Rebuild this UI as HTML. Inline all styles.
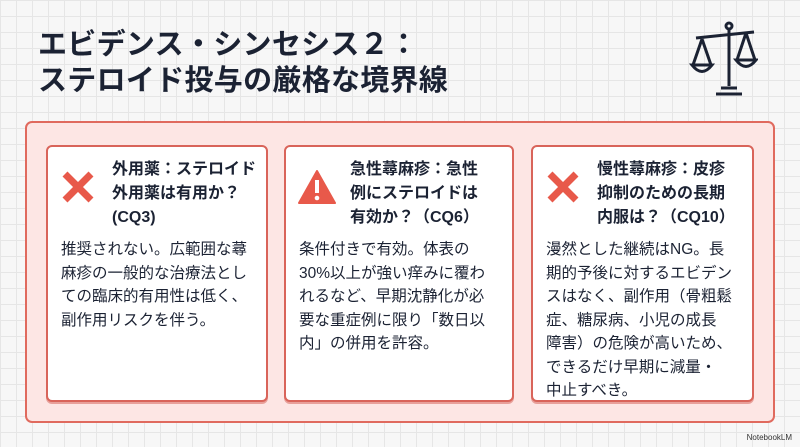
<!DOCTYPE html>
<html><head><meta charset="utf-8"><style>
body{margin:0;width:800px;height:447px;overflow:hidden;font-family:"Liberation Sans","Noto Sans CJK JP",sans-serif;
background-color:#f7f7f7;background-image:linear-gradient(#e6e6e6 1px,transparent 1px),linear-gradient(90deg,#e6e6e6 1px,transparent 1px);background-size:16px 16px;position:relative;color:#1e2433}
.t{position:absolute;left:38px;top:27px;font-size:29px;font-weight:bold;line-height:36px;color:#1b2233;letter-spacing:0.3px}
.outer{position:absolute;left:25px;top:121px;width:746px;height:298px;background:#fde6e4;border:2px solid #e06a5e;border-radius:7px}
.card{position:absolute;top:145px;height:257px;background:#fff;border:2px solid #d9645a;border-radius:6px;box-sizing:border-box;box-shadow:0 2px 0 #e8a09a}
.h{position:absolute;left:64px;top:11px;font-size:16px;font-weight:bold;line-height:24px;color:#1b2233}
.b{position:absolute;left:13px;top:91px;font-size:15.5px;line-height:23.5px;color:#1b2233;white-space:nowrap}
.ic{position:absolute;left:12px;top:22px}
.nb{position:absolute;right:8px;bottom:5px;font-size:8px;color:#333}
</style></head><body>
<div class="t">エビデンス・シンセシス２：<br>ステロイド投与の厳格な境界線</div>
<svg style="position:absolute;left:688px;top:20px" width="70" height="80" viewBox="0 0 70 80" fill="none" stroke="#1b2233" stroke-width="3">
<circle cx="41" cy="6" r="3"/><line x1="41" y1="9" x2="41" y2="66"/><line x1="8" y1="18" x2="66" y2="12"/>
<path d="M14 19 L5 45 M14 19 L23 45 M4 45 Q14 58 24 45 Z"/><path d="M58 13 L49 40 M58 13 L67 40 M48 40 Q58 53 68 40 Z"/>
<path d="M33 68 h16 M28 74 h26"/></svg>
<div class="outer"></div>
<div class="card" style="left:46px;width:222px">
<svg class="ic" width="36" height="36" viewBox="0 0 36 36"><path d="M5 5 L31 31 M31 5 L5 31" stroke="#e8594a" stroke-width="7"/></svg>
<div class="h">外用薬：ステロイド<br>外用薬は有用か？<br>(CQ3)</div>
<div class="b">推奨されない。広範囲な蕁<br>麻疹の一般的な治療法とし<br>ての臨床的有用性は低く、<br>副作用リスクを伴う。</div></div>
<div class="card" style="left:284px;width:230px">
<svg class="ic" width="38" height="36" viewBox="0 0 38 36"><path d="M19 2 L37 34 H1 Z" fill="#e8594a" stroke="#e8594a" stroke-width="2" stroke-linejoin="round"/><rect x="17" y="11" width="4" height="13" fill="#fff"/><circle cx="19" cy="29" r="2.3" fill="#fff"/></svg>
<div class="h">急性蕁麻疹：急性<br>例にステロイドは<br>有効か？（CQ6）</div>
<div class="b">条件付きで有効。体表の<br>30%以上が強い痒みに覆わ<br>れるなど、早期沈静化が必<br>要な重症例に限り「数日以<br>内」の併用を許容。</div></div>
<div class="card" style="left:531px;width:223px">
<svg class="ic" width="36" height="36" viewBox="0 0 36 36"><path d="M5 5 L31 31 M31 5 L5 31" stroke="#e8594a" stroke-width="7"/></svg>
<div class="h">慢性蕁麻疹：皮疹<br>抑制のための長期<br>内服は？（CQ10）</div>
<div class="b">漫然とした継続はNG。長<br>期的予後に対するエビデン<br>スはなく、副作用（骨粗鬆<br>症、糖尿病、小児の成長<br>障害）の危険が高いため、<br>できるだけ早期に減量・<br>中止すべき。</div></div>
<div class="nb">NotebookLM</div>
</body></html>
